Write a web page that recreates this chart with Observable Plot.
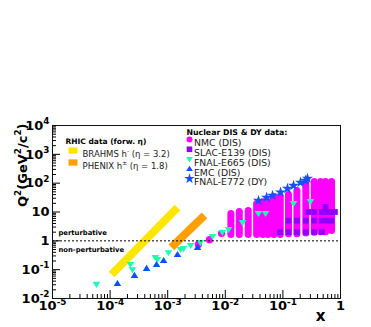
<!DOCTYPE html>
<html><head><meta charset="utf-8">
<script src="https://cdn.jsdelivr.net/npm/d3@7"></script>
<script src="https://cdn.jsdelivr.net/npm/@observablehq/plot@0.6"></script>
<style>
html,body{margin:0;padding:0;background:#fff;}
#chart{width:371px;height:327px;overflow:hidden;}
svg text{font-family:"DejaVu Sans",sans-serif;}
</style></head><body><div id="chart"></div>
<script>
// ---- data ----
const e665X  = [5.8e-5, 2.26e-4, 2.45e-4, 6.1e-4, 6.65e-4, 1.03e-3, 1.67e-3, 1.88e-3, 2.5e-3, 3.7e-3, 6.0e-3, 8.9e-3, 0.0114, 0.0199, 0.0377, 0.0499, 0.153, 0.30];
const e665Q2 = [0.031, 0.151, 0.10, 0.264, 0.225, 0.39, 0.50, 0.54, 0.69, 0.875, 1.42, 1.95, 2.5, 4.3, 8.9, 8.9, 19.7, 23];
const emcX  = [1.34e-4, 2.65e-4, 4.3e-4, 6.4e-4, 8.5e-4, 1.48e-3, 3.3e-3];
const emcQ2 = [0.033, 0.063, 0.11, 0.151, 0.208, 0.336, 0.59];
const e772X  = [0.0377, 0.052, 0.066, 0.091, 0.120, 0.153, 0.202, 0.247, 0.267];
const e772Q2 = [25, 32, 37, 48, 65, 83, 106, 124, 145];
const nmcDotX  = [3.4e-3, 5.3e-3, 8.6e-3];
const nmcDotQ2 = [0.75, 1.1, 1.8];
const nmcColX     = [0.0125, 0.0175, 0.025, 0.035, 0.045, 0.055, 0.07, 0.09, 0.125, 0.175, 0.25, 0.35, 0.45, 0.55, 0.7];
const nmcColQ2min = [1.6, 1.6, 1.6, 1.6, 1.6, 1.6, 1.6, 1.6, 1.7, 1.7, 1.8, 1.9, 2.0, 2.0, 2.2];
const nmcColQ2max = [8.5, 10, 10.8, 19, 22, 22, 33, 33, 39, 54, 94, 110, 110, 110, 110];
const slacX  = [0.089, 0.125, 0.175, 0.25, 0.35, 0.475, 0.125, 0.175, 0.25, 0.35, 0.475, 0.6, 0.7, 0.275, 0.35, 0.475, 0.6, 0.7, 0.8, 0.55];
const slacQ2 = [2, 2, 2, 2, 2, 2, 5, 5, 5, 5, 5, 5, 5, 10, 10, 10, 10, 10, 10, 15];
const brahmsX  = [1.06e-4, 1.48e-3];
const brahmsQ2 = [0.068, 14.3];
const phenixX  = [1.16e-3, 4.35e-3];
const phenixQ2 = [0.59, 7.6];
const xMajor = [1e-5, 1e-4, 1e-3, 1e-2, 1e-1, 1];
const xMajorLabels = ["10^{-5}", "10^{-4}", "10^{-3}", "10^{-2}", "10^{-1}", "1"];
const yMajor = [1e-2, 1e-1, 1, 10, 100, 1e3, 1e4];
const yMajorLabels = ["10^{-2}", "10^{-1}", "1", "10", "10^{2}", "10^{3}", "10^{4}"];
const dataLegendNames = ["NMC (DIS)", "SLAC-E139 (DIS)", "FNAL-E665 (DIS)", "EMC (DIS)", "FNAL-E772 (DY)"];
const rhicLegendNames = ["BRAHMS h^{-} (η = 3.2)", "PHENIX h^{±} (η = 1.8)"];

// ---- styles ----
const C = {nmc:"#ff00ff", slac:"#9000ff", e665:"#19ffb0", emc:"#0a50ff", e772:"#1450ff", brahms:"#ffe600", phenix:"#ffa000"};
const downTri = {draw(c, s){const r=Math.sqrt(s/Math.PI); c.moveTo(-r,-r*0.65); c.lineTo(r,-r*0.65); c.lineTo(0,r*0.95); c.closePath();}};
const upTri   = {draw(c, s){const r=Math.sqrt(s/Math.PI); c.moveTo(-r,r*0.65); c.lineTo(r,r*0.65); c.lineTo(0,-r*0.95); c.closePath();}};
const box     = {draw(c, s){const r=Math.sqrt(s/Math.PI); c.rect(-r, -r*0.7, 2*r, 1.4*r);}};
const sq      = {draw(c, s){const r=Math.sqrt(s/Math.PI); c.rect(-r, -r, 2*r, 2*r);}};

const minors = (lo, hi) => d3.range(lo, hi).flatMap(e => d3.range(2, 10).map(k => k * 10 ** e));
const pts = (xs, ys) => xs.map((x, i) => ({x, q: ys[i]}));

const legendSyms = [
  {symbol: "circle", fill: C.nmc, r: 3},
  {symbol: sq, fill: C.slac, r: 2.8},
  {symbol: downTri, fill: C.e665, r: 3.4},
  {symbol: upTri, fill: C.emc, r: 3.4},
  {symbol: "star", fill: C.e772, r: 3.3}
];
const rhicCols = [C.brahms, C.phenix];

const marks = [
  Plot.line(pts(brahmsX, brahmsQ2), {x:"x", y:"q", stroke:C.brahms, strokeWidth:8, strokeLinecap:"butt"}),
  Plot.line(pts(phenixX, phenixQ2), {x:"x", y:"q", stroke:C.phenix, strokeWidth:8, strokeLinecap:"butt"}),
  Plot.ruleX(nmcColX.map((x,i)=>({x, a:nmcColQ2min[i], b:nmcColQ2max[i]})), {x:"x", y1:"a", y2:"b", stroke:C.nmc, strokeWidth:7, strokeLinecap:"round"}),
  Plot.dot(pts(nmcDotX, nmcDotQ2), {x:"x", y:"q", r:3.6, fill:C.nmc, symbol:"circle"}),
  Plot.dot(pts(slacX, slacQ2), {x:"x", y:"q", r:2.9, fill:C.slac, symbol:sq}),
  Plot.dot(pts(e665X, e665Q2), {x:"x", y:"q", r:3.8, fill:C.e665, symbol:downTri}),
  Plot.dot(pts(emcX, emcQ2), {x:"x", y:"q", r:3.8, fill:C.emc, symbol:upTri}),
  Plot.dot(pts(e772X, e772Q2), {x:"x", y:"q", r:3.5, fill:C.e772, symbol:"star"}),
  Plot.ruleY([1], {stroke:"#000", strokeWidth:1, strokeDasharray:"2,2"}),
  Plot.text(["perturbative"], {x:null, y:()=>1, frameAnchor:"left", dx:6, dy:-8.5, text:d=>d, textAnchor:"start", fontSize:6.8, fontWeight:"bold", fill:"#000"}),
  Plot.text(["non-perturbative"], {x:null, y:()=>1, frameAnchor:"left", dx:6, dy:9, text:d=>d, textAnchor:"start", fontSize:6.8, fontWeight:"bold", fill:"#000"}),
  // axes ticks (inside)
  Plot.axisX(xMajor, {anchor:"bottom", tickSize:-8, fill:"none", label:null, stroke:"#000"}),
  Plot.axisX(minors(-5, 0), {anchor:"bottom", tickSize:-4, fill:"none", label:null, stroke:"#000"}),
  Plot.axisY(yMajor, {anchor:"left", tickSize:-8, fill:"none", label:null, stroke:"#000"}),
  Plot.axisY(minors(-2, 4), {anchor:"left", tickSize:-4, fill:"none", label:null, stroke:"#000"}),
  Plot.frame({stroke:"#111"}),
  // tick labels
  Plot.text(xMajor, {x:d=>d, y:null, frameAnchor:"bottom", dy:11.5, text:(d,i)=>xMajorLabels[i], fontSize:13, fontWeight:"bold", fill:"#000"}),
  Plot.text(yMajor, {y:d=>d, x:null, frameAnchor:"left", dx:-3, textAnchor:"end", text:(d,i)=>yMajorLabels[i], fontSize:13, fontWeight:"bold", fill:"#000"}),
  // axis titles
  Plot.text(["Q^{2}(GeV^{2}/c^{2})"], {x:null, y:null, frameAnchor:"top-left", dx:-35, dy:-2, rotate:-90, textAnchor:"end", text:d=>d, fontSize:13, fontWeight:"bold", fill:"#000"}),
  Plot.text(["x"], {x:null, y:null, frameAnchor:"bottom-right", dx:-15, dy:22, text:d=>d, fontSize:15, fontWeight:"bold", fill:"#000"}),
  // legend: RHIC
  Plot.text(["RHIC data (forw. η)"], {x:null, y:null, frameAnchor:"top-left", dx:13, dy:13, text:d=>d, textAnchor:"start", fontSize:7.5, fontWeight:"bold", fill:"#000"}),
  ...rhicLegendNames.flatMap((n, i) => [
    Plot.dot([n], {x:null, y:null, frameAnchor:"top-left", dx:20.5, dy:25 + 12*i, r:4.5, symbol:box, fill:rhicCols[i]}),
    Plot.text([n], {x:null, y:null, frameAnchor:"top-left", dx:30, dy:25 + 12*i, text:d=>d, textAnchor:"start", fontSize:8.5, fill:"#222", letterSpacing:0.2})
  ]),
  // legend: nuclear DIS & DY
  Plot.text(["Nuclear DIS & DY data:"], {x:null, y:null, frameAnchor:"top-left", dx:134, dy:3.5, text:d=>d, textAnchor:"start", fontSize:7.8, fontWeight:"bold", fill:"#000"}),
  ...dataLegendNames.flatMap((n, i) => [
    Plot.dot([n], {x:null, y:null, frameAnchor:"top-left", dx:137, dy:14 + 9.8*i, r:legendSyms[i].r, symbol:legendSyms[i].symbol, fill:legendSyms[i].fill}),
    Plot.text([n], {x:null, y:null, frameAnchor:"top-left", dx:141.5, dy:14 + 9.8*i, text:d=>d, textAnchor:"start", fontSize:9.3, fill:"#222", letterSpacing:0.3})
  ])
];

const chart = Plot.plot({
  width: 371, height: 327,
  marginTop: 125, marginRight: 31, marginBottom: 29, marginLeft: 52,
  x: {type:"log", domain:[1e-5, 1], axis:null},
  y: {type:"log", domain:[1e-2, 1e4], axis:null},
  style: {background:"#fff", fontFamily:"DejaVu Sans", overflow:"visible"},
  marks
});
document.getElementById("chart").append(chart);

// superscripts ^{...} -> tspans
chart.querySelectorAll("text").forEach(el => {
  const s = el.textContent;
  if (!s.includes("^{")) return;
  const fs = parseFloat(getComputedStyle(el).fontSize) || 10;
  const sfs = fs * 0.68, shift = fs * 0.42;
  el.textContent = "";
  const NS = "http://www.w3.org/2000/svg";
  const add = (t, sup) => {
    const ts = document.createElementNS(NS, "tspan");
    ts.textContent = t;
    if (sup) { ts.setAttribute("font-size", sfs); ts.setAttribute("dy", -shift); }
    else if (el.lastChild && el.lastChild.__sup) ts.setAttribute("dy", shift);
    ts.__sup = sup;
    el.appendChild(ts);
  };
  const re = /\^\{([^}]*)\}/g; let last = 0, m;
  while ((m = re.exec(s))) {
    if (m.index > last) add(s.slice(last, m.index), false);
    add(m[1], true);
    last = re.lastIndex;
  }
  if (last < s.length) add(s.slice(last), false);
});
</script></body></html>
